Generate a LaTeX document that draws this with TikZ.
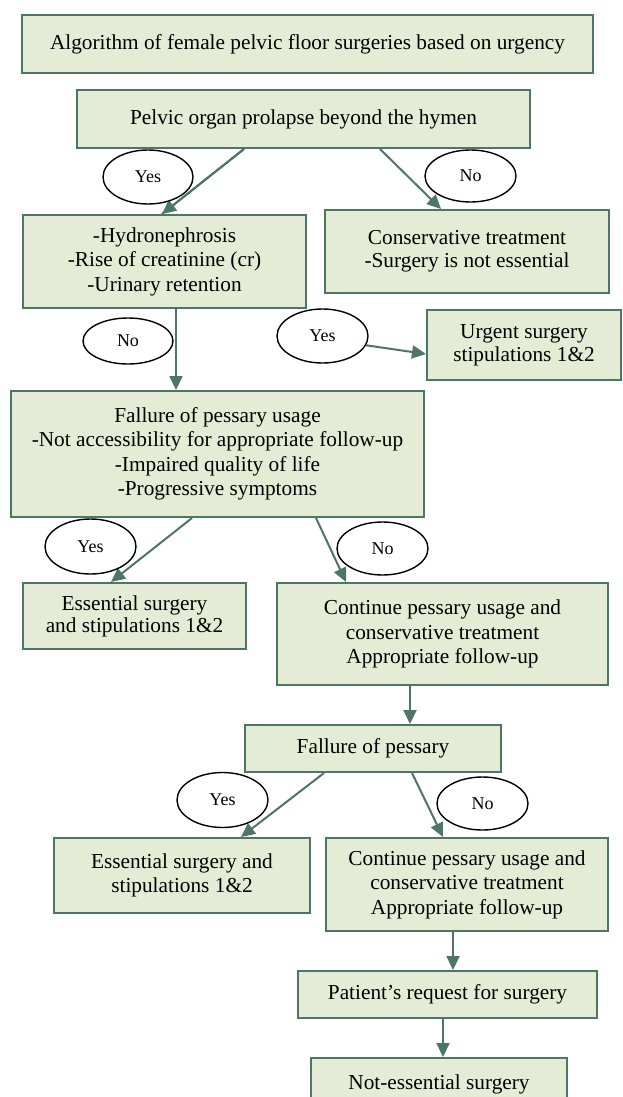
\documentclass[tikz,border=0pt]{standalone}
\usepackage{fontspec}
\setmainfont{Liberation Serif}
\usetikzlibrary{arrows.meta,shapes.geometric}
\definecolor{boxfill}{RGB}{228,236,213}
\definecolor{boxline}{RGB}{78,118,100}
\tikzset{
  box/.style={draw=boxline, fill=boxfill, line width=2pt, inner sep=0pt, align=center,
    font=\fontsize{21.3}{24.5}\selectfont},
  oval/.style={draw=black, fill=white, ellipse, line width=1.4pt, inner sep=0pt,
    font=\fontsize{18}{20}\selectfont},
  arr/.style={draw=boxline, line width=2pt, -{Triangle[length=14pt,width=13pt]}, color=boxline}
}
\begin{document}
\begin{tikzpicture}[x=1pt,y=-1pt]
\clip (0,0) rectangle (622,1097);
\fill[white] (0,0) rectangle (622,1097);
% boxes
\node[box, minimum width=571pt, minimum height=58pt] (tit) at (307.5,44) {Algorithm of female pelvic floor surgeries based on urgency};
\node[box, minimum width=453pt, minimum height=58pt] (pel) at (303.5,119) {Pelvic organ prolapse beyond the hymen};
\node[box, minimum width=283pt, minimum height=93pt] (hyd) at (164.5,261.5) {-Hydronephrosis\\-Rise of creatinine (cr)\\-Urinary retention};
\node[box, minimum width=284pt, minimum height=83pt, font=\fontsize{21.3}{23}\selectfont] (con) at (467,251.5) {Conservative treatment\\-Surgery is not essential};
\node[box, minimum width=194pt, minimum height=70pt, font=\fontsize{21.3}{23}\selectfont] (urg) at (524,345) {Urgent surgery\\stipulations 1\&2};
\node[box, minimum width=413pt, minimum height=126pt] (fal) at (217.5,454) {Fallure of pessary usage\\-Not accessibility for appropriate follow-up\\-Impaired quality of life\\-Progressive symptoms};
\node[box, minimum width=223pt, minimum height=66pt, font=\fontsize{21.3}{22}\selectfont] (es1) at (134.5,616) {Essential surgery\\and stipulations 1\&2};
\node[box, minimum width=331pt, minimum height=102pt] (co1) at (442.5,634) {Continue pessary usage and\\conservative treatment\\Appropriate follow-up};
\node[box, minimum width=256pt, minimum height=47pt] (fa2) at (373,748.5) {Fallure of pessary};
\node[box, minimum width=256pt, minimum height=75pt, font=\fontsize{21.3}{24}\selectfont] (es2) at (182,875.5) {Essential surgery and\\stipulations 1\&2};
\node[box, minimum width=282pt, minimum height=93pt] (co2) at (467,884.5) {Continue pessary usage and\\conservative treatment\\Appropriate follow-up};
\node[box, minimum width=299pt, minimum height=47pt] (pat) at (447.5,994.5) {Patient’s request for surgery};
\node[box, minimum width=256pt, minimum height=52pt] (nes) at (439,1084) {Not-essential surgery};
% arrows
\draw[arr] ([xshift=168pt]pel.south west) -- ([xshift=140pt]hyd.north west);
\draw[arr] ([xshift=154pt]hyd.south west) -- ([xshift=166pt]fal.north west);
\draw[arr] ([xshift=182pt]fal.south west) -- ([xshift=89pt]es1.north west);
\draw[arr] ([xshift=134pt]co1.south west) -- ([xshift=166pt]fa2.north west);
\draw[arr] ([xshift=80pt]fa2.south west) -- ([xshift=188pt]es2.north west);
\draw[arr] ([xshift=128pt]co2.south west) -- ([xshift=156pt]pat.north west);
\draw[arr] ([xshift=146pt]pat.south west) -- ([xshift=133pt]nes.north west);
% ovals
\node[oval, minimum width=90pt, minimum height=54pt] (y1) at (148,177) {Yes};
\node[oval, minimum width=91pt, minimum height=52pt] (n1) at (470.5,176) {No};
\node[oval, minimum width=90pt, minimum height=46pt] (n2) at (128,341) {No};
\node[oval, minimum width=91pt, minimum height=54pt] (y2) at (322.5,336) {Yes};
\node[oval, minimum width=91pt, minimum height=55pt] (y3) at (90.5,546.5) {Yes};
\node[oval, minimum width=91pt, minimum height=53pt] (n3) at (382.5,548.5) {No};
\node[oval, minimum width=91pt, minimum height=55pt] (y4) at (222.5,800) {Yes};
\node[oval, minimum width=91pt, minimum height=53pt] (n4) at (482.5,803.5) {No};
\draw[arr] (y2.-12) -- ([yshift=-45pt]urg.north west);
% arrows that the reference shows on top of the ovals
\draw[boxline, line width=2pt] ([xshift=168pt]pel.south west) -- ([xshift=140pt]hyd.north west);
\draw[arr] ([xshift=304pt]pel.south west) -- ([xshift=117pt]con.north west);
\draw[arr] ([xshift=306pt]fal.south west) -- ([xshift=70pt]co1.north west);
\draw[arr] ([xshift=168pt]fa2.south west) -- ([xshift=118pt]co2.north west);
\end{tikzpicture}
\end{document}
